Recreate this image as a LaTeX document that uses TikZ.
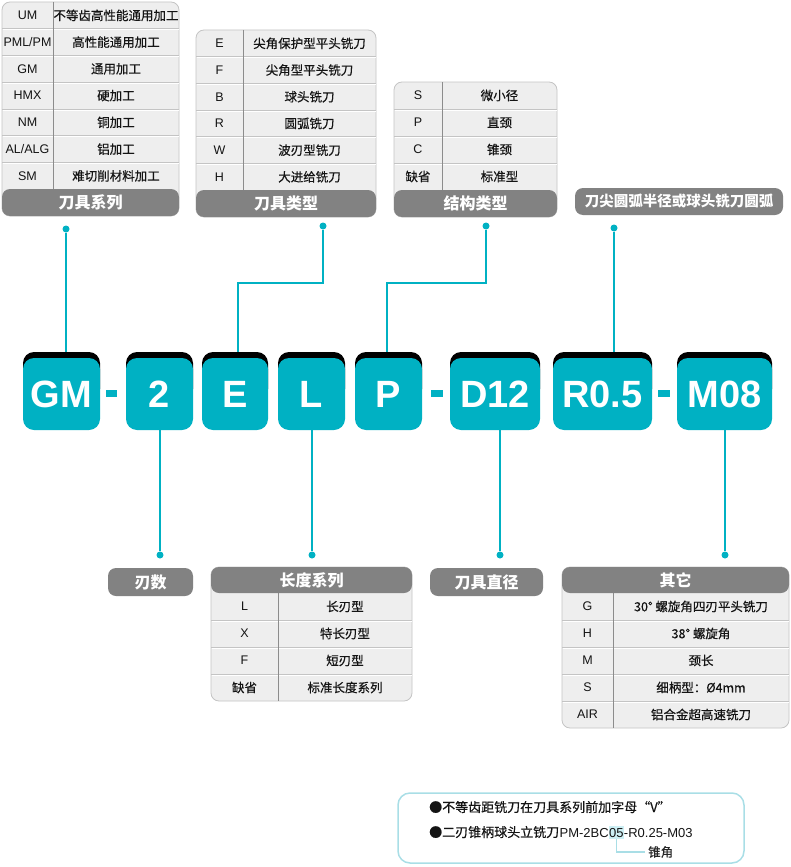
\documentclass[tikz,border=0pt]{standalone}
\usepackage{fontspec}
\setmainfont{Liberation Sans}
\newfontfamily\cjk{Noto Sans CJK SC}
\newfontfamily\cjkm{Noto Sans CJK SC}[FakeBold=0.5]
\usetikzlibrary{calc}
\definecolor{teal1}{HTML}{00B1C3}
\definecolor{hdrgray}{HTML}{828282}
\definecolor{cellbg}{HTML}{EEEEEE}
\definecolor{cellline}{HTML}{C4C4C4}
\definecolor{divline}{HTML}{8C8C8C}
\definecolor{notecyan}{HTML}{A9DEE6}
\definecolor{hlcyan}{HTML}{CDEFF4}
\tikzset{
  tbl/.style={draw=cellline, fill=cellbg, rounded corners=8pt, line width=0.8pt},
  hdr/.style={fill=hdrgray, rounded corners=8pt},
  rowsep/.style={draw=cellline, line width=0.8pt},
  vdiv/.style={draw=divline, line width=0.7pt},
  hdrtext/.style={text=white, font=\cjk\bfseries\fontsize{16}{16}\selectfont, inner sep=0pt},
  lbl/.style={fill=hdrgray, rounded corners=8pt, text=white, inner sep=0pt},
  lat/.style={font=\fontsize{12.5}{12.5}\selectfont, text=black!92, inner sep=0pt},
  chn/.style={font=\cjkm\fontsize{12.5}{12.5}\selectfont, text=black!92, inner sep=0pt},
  codebox/.style={fill=teal1, rounded corners=11pt, text=white, font=\bfseries\fontsize{38}{38}\selectfont, inner sep=0pt},
  conn/.style={draw=teal1, line width=1.2pt},
  tdot/.style={circle, fill=teal1, inner sep=0pt, minimum size=7pt},
  notecjk/.style={font=\cjkm\fontsize{13}{13}\selectfont, text=black!92, inner sep=0pt},
  notelat/.style={font=\fontsize{13}{13}\selectfont, text=black!92, inner sep=0pt},
}
\newcommand\CodeBox[4]{%
  \fill[black, rounded corners=11pt] ({#2-#3/2},352) rectangle ({#2+#3/2},400);
  \node[codebox, minimum width=#3pt, minimum height=72pt] (#1) at (#2,394) {#4};
}
\begin{document}
\begin{tikzpicture}[x=1pt,y=-1pt]
\useasboundingbox (0,0) rectangle (790,867);

% ---------- Table 1: 刀具系列 ----------
\draw[tbl] (2,2) rectangle (179,216);
\foreach \i in {1,...,6} {
  \draw[rowsep] (2,{2+26.75*\i}) -- (179,{2+26.75*\i});
  \draw[white, line width=0.8pt] (2.5,{3+26.75*\i}) -- (178.5,{3+26.75*\i});
}
\draw[vdiv] (53,2) -- (53,189);
\fill[hdr] (2,189) rectangle (179,216);
\node[hdrtext] (h1) at (90.5,202.5) {刀具系列};
\foreach \ca/\tb [count=\i] in {UM/不等齿高性能通用加工,{PML/PM}/高性能通用加工,GM/通用加工,HMX/硬加工,NM/铜加工,{AL/ALG}/铝加工,SM/难切削材料加工}{
  \node[lat] (ta\i) at (27.5,{2+26.75*(\i-0.5)}) {\ca};
  \node[chn] (tb\i) at (116,{2+26.75*(\i-0.5)}) {\tb};
}

% ---------- Table 2: 刀具类型 ----------
\draw[tbl] (196,30) rectangle (376,217);
\foreach \i in {1,...,5} {
  \draw[rowsep] (196,{30+26.7*\i}) -- (376,{30+26.7*\i});
  \draw[white, line width=0.8pt] (196.5,{31+26.7*\i}) -- (375.5,{31+26.7*\i});
}
\draw[vdiv] (243,30) -- (243,190);
\fill[hdr] (196,190) rectangle (376,217);
\node[hdrtext] (h2) at (286,203.5) {刀具类型};
\foreach \ca/\tb [count=\i] in {E/尖角保护型平头铣刀,F/尖角型平头铣刀,B/球头铣刀,R/圆弧铣刀,W/波刃型铣刀,H/大进给铣刀}{
  \node[lat] (tc\i) at (219.5,{30+26.7*(\i-0.5)}) {\ca};
  \node[chn] (td\i) at (309.5,{30+26.7*(\i-0.5)}) {\tb};
}

% ---------- Table 3: 结构类型 ----------
\draw[tbl] (394,82) rectangle (557,217);
\foreach \i in {1,...,3} {
  \draw[rowsep] (394,{82+27*\i}) -- (557,{82+27*\i});
  \draw[white, line width=0.8pt] (394.5,{83+27*\i}) -- (556.5,{83+27*\i});
}
\draw[vdiv] (442,82) -- (442,190);
\fill[hdr] (394,190) rectangle (557,217);
\node[hdrtext] (h3) at (475.5,203.5) {结构类型};
\node[lat] (te1) at (418,95.5) {S};
\node[chn] (tf1) at (499.5,95.5) {微小径};
\node[lat] (te2) at (418,122.5) {P};
\node[chn] (tf2) at (499.5,122.5) {直颈};
\node[lat] (te3) at (418,149.5) {C};
\node[chn] (tf3) at (499.5,149.5) {锥颈};
\node[chn] (te4) at (418,176.5) {缺省};
\node[chn] (tf4) at (499.5,176.5) {标准型};

% ---------- Label: 刀尖圆弧 ----------
\node[lbl, minimum width=208pt, minimum height=27pt, font=\cjk\bfseries\fontsize{14.5}{14.5}\selectfont] (lR) at (679,201.5) {刀尖圆弧半径或球头铣刀圆弧};

% ---------- Code boxes ----------
\CodeBox{bGM}{61.5}{77}{GM}
\CodeBox{b2}{159.5}{67}{2}
\CodeBox{bE}{235}{66}{E}
\CodeBox{bL}{311.5}{67}{L}
\CodeBox{bP}{388.5}{67}{P}
\CodeBox{bD}{495}{90}{D12}
\CodeBox{bR}{602.5}{99}{R0.5}
\CodeBox{bM}{724.5}{95}{M08}
\fill[teal1] (106,390) rectangle (117,397);
\fill[teal1] (431,390) rectangle (443,397);
\fill[teal1] (658,390) rectangle (670,397);

% ---------- Top connectors ----------
\node[tdot] (dGM) at (66,229) {};
\node[tdot] (dE) at (323,226) {};
\node[tdot] (dP) at (486,226) {};
\node[tdot] (dR) at (614,228) {};
\coordinate (kE) at (238,283);
\coordinate (kP) at (387,283);
\draw[conn] (dGM) -- ($(dGM |- bGM.north)+(0,-6)$);
\draw[conn] (dE) |- (kE) -- ($(kE |- bE.north)+(0,-6)$);
\draw[conn] (dP) |- (kP) -- ($(kP |- bP.north)+(0,-6)$);
\draw[conn] (dR) -- ($(dR |- bR.north)+(0,-6)$);

% ---------- Bottom connectors ----------
\node[tdot] (d2) at (160,555) {};
\node[tdot] (dL) at (312,555) {};
\node[tdot] (dD) at (500,555) {};
\node[tdot] (dM) at (725,555) {};
\draw[conn] (d2 |- b2.south) -- (d2);
\draw[conn] (dL |- bL.south) -- (dL);
\draw[conn] (dD |- bD.south) -- (dD);
\draw[conn] (dM |- bM.south) -- (dM);

% ---------- Bottom labels ----------
\node[lbl, minimum width=85pt, minimum height=28pt, font=\cjk\bfseries\fontsize{16}{16}\selectfont] (lN) at (150.5,582) {刃数};
\node[lbl, minimum width=113pt, minimum height=28pt, font=\cjk\bfseries\fontsize{16}{16}\selectfont] (lDia) at (486.5,582) {刀具直径};

% ---------- Table 4: 长度系列 ----------
\draw[tbl] (211,567) rectangle (412,701);
\foreach \i in {1,...,3} {
  \draw[rowsep] (211,{593+27*\i}) -- (412,{593+27*\i});
  \draw[white, line width=0.8pt] (211.5,{594+27*\i}) -- (411.5,{594+27*\i});
}
\draw[vdiv] (278,593) -- (278,701);
\fill[hdr] (211,567) rectangle (412,593);
\node[hdrtext] (h4) at (311.5,580) {长度系列};
\node[lat] (tg1) at (244.5,606.5) {L};
\node[chn] (th1) at (345,606.5) {长刃型};
\node[lat] (tg2) at (244.5,633.5) {X};
\node[chn] (th2) at (345,633.5) {特长刃型};
\node[lat] (tg3) at (244.5,660.5) {F};
\node[chn] (th3) at (345,660.5) {短刃型};
\node[chn] (tg4) at (244.5,687.5) {缺省};
\node[chn] (th4) at (345,687.5) {标准长度系列};

% ---------- Table 5: 其它 ----------
\draw[tbl] (562,567) rectangle (789,728);
\foreach \i in {1,...,4} {
  \draw[rowsep] (562,{593+27*\i}) -- (789,{593+27*\i});
  \draw[white, line width=0.8pt] (562.5,{594+27*\i}) -- (788.5,{594+27*\i});
}
\draw[vdiv] (613,593) -- (613,728);
\fill[hdr] (562,567) rectangle (789,593);
\node[hdrtext] (h5) at (675.5,580) {其它};
\node[lat] (ti1) at (587.5,606.5) {G};
\node[chn] (tj1) at (701,606.5) {30° 螺旋角四刃平头铣刀};
\node[lat] (ti2) at (587.5,633.5) {H};
\node[chn] (tj2) at (701,633.5) {38° 螺旋角};
\node[lat] (ti3) at (587.5,660.5) {M};
\node[chn] (tj3) at (701,660.5) {颈长};
\node[lat] (ti4) at (587.5,687.5) {S};
\node[chn] (tj4) at (701,687.5) {细柄型：Ø4mm};
\node[lat] (ti5) at (587.5,714.5) {AIR};
\node[chn] (tj5) at (701,714.5) {铝合金超高速铣刀};

% ---------- Note box ----------
\draw[notecyan, line width=1.5pt, rounded corners=12pt] (398,793) rectangle (744,863);
\node[notecjk, anchor=base west] (n1) at (429,812) {●不等齿距铣刀在刀具系列前加字母“V”};
\node[notecjk, anchor=base west] (n2a) at (429,837) {●二刃锥柄球头立铣刀};
\node[notelat, anchor=base west] (n2b) at (n2a.base east) {PM-2BC};
\node[notelat, anchor=base west, fill=hlcyan, inner ysep=1.5pt] (n2c) at (n2b.base east) {05};
\node[notelat, anchor=base west] (n2d) at (n2c.base east) {-R0.25-M03};
\node[font=\cjkm\fontsize{12.5}{12.5}\selectfont, text=black!85, anchor=west, inner sep=3pt] (lZ) at (645,852) {锥角};
\draw[notecyan, line width=1.2pt] (n2c.south) |- (lZ.west);
\end{tikzpicture}
\end{document}
